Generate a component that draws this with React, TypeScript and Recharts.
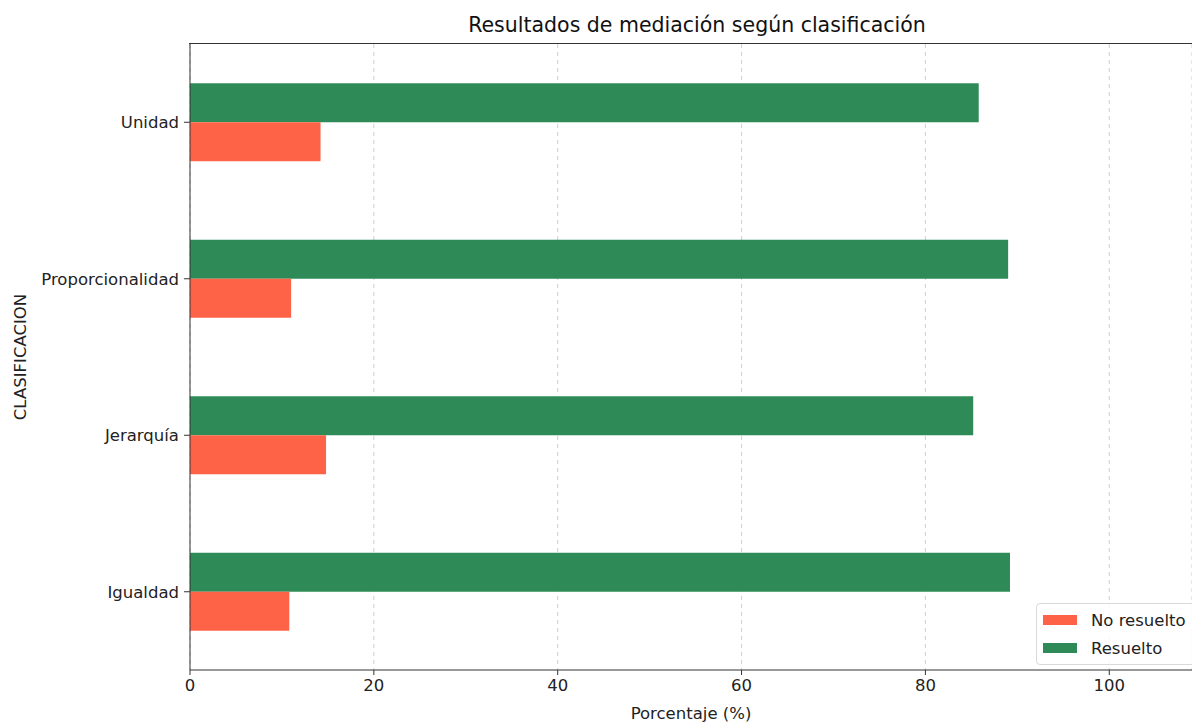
import React from 'react';
import {
  BarChart,
  Bar,
  XAxis,
  YAxis,
  CartesianGrid,
} from 'recharts';

// categories top to bottom
const categories = ['Unidad', 'Proporcionalidad', 'Jerarquía', 'Igualdad'];
const resuelto = [85.8, 89.0, 85.2, 89.2];
const noResuelto = [14.2, 11.0, 14.8, 10.8];
const xTicks = [0, 20, 40, 60, 80, 100];

const GREEN = '#2e8b57';
const RED = '#ff6347';
const FONT = '"DejaVu Sans", sans-serif';
const FS = 16.5;

if (typeof document !== 'undefined') {
  document.body.style.margin = '0';
}

const data = categories.map((name, i) => ({
  name,
  Resuelto: resuelto[i],
  'No resuelto': noResuelto[i],
}));

const legendItems = [
  { label: 'No resuelto', color: RED },
  { label: 'Resuelto', color: GREEN },
];

const LegendBox = () => (
  <div
    style={{
      position: 'absolute',
      left: 1036,
      top: 603,
      border: '1px solid #d9d9d9',
      borderRadius: 4,
      background: 'rgba(255,255,255,0.85)',
      padding: '2px 10px 2px 6px',
      fontFamily: FONT,
      fontSize: FS,
      color: '#222',
      whiteSpace: 'nowrap',
    }}
  >
    {legendItems.map((it) => (
      <div key={it.label} style={{ display: 'flex', alignItems: 'center', height: 28 }}>
        <span style={{ width: 34, height: 10, background: it.color, marginRight: 14, flexShrink: 0 }} />
        <span>{it.label}</span>
      </div>
    ))}
  </div>
);

const App: React.FC = () => {
  return (
    <div style={{ position: 'relative', width: 1192, height: 722, overflow: 'hidden', background: '#fff' }}>
      <div
        style={{
          position: 'absolute',
          top: 13,
          left: 190,
          width: 1014,
          textAlign: 'center',
          fontFamily: FONT,
          fontSize: 20.5,
          color: '#111',
        }}
      >
        Resultados de mediación según clasificación
      </div>
      {/* top spine of the axes frame */}
      <div style={{ position: 'absolute', top: 43, left: 189, width: 1010, height: 0, borderTop: '1.5px solid #333', zIndex: 1 }} />
      <BarChart
        width={1192}
        height={722}
        data={data}
        layout="vertical"
        margin={{ top: 44, right: 0, left: 0, bottom: 0 }}
        barCategoryGap="25%"
        barGap={0}
      >
        <CartesianGrid horizontal={false} stroke="#cfcfcf" strokeDasharray="4 4" />
        <XAxis
          type="number"
          domain={[0, 109]}
          ticks={xTicks}
          allowDataOverflow
          height={52}
          stroke="#333"
          tickSize={5}
          tickMargin={4}
          tick={{ fill: '#222', fontSize: FS, fontFamily: FONT }}
          label={{ value: 'Porcentaje (%)', position: 'insideBottom', offset: 3, fill: '#222', fontSize: FS, fontFamily: FONT }}
        />
        <YAxis
          type="category"
          dataKey="name"
          width={190}
          stroke="#333"
          tickSize={6}
          tickMargin={5}
          tick={{ fill: '#222', fontSize: FS, fontFamily: FONT }}
          label={{ value: 'CLASIFICACION', angle: -90, position: 'insideLeft', offset: 20, fill: '#222', fontSize: FS, fontFamily: FONT, style: { textAnchor: 'middle' } }}
        />
        <Bar dataKey="Resuelto" fill={GREEN} isAnimationActive={false} />
        <Bar dataKey="No resuelto" fill={RED} isAnimationActive={false} />
      </BarChart>
      <LegendBox />
    </div>
  );
};

export default App;
